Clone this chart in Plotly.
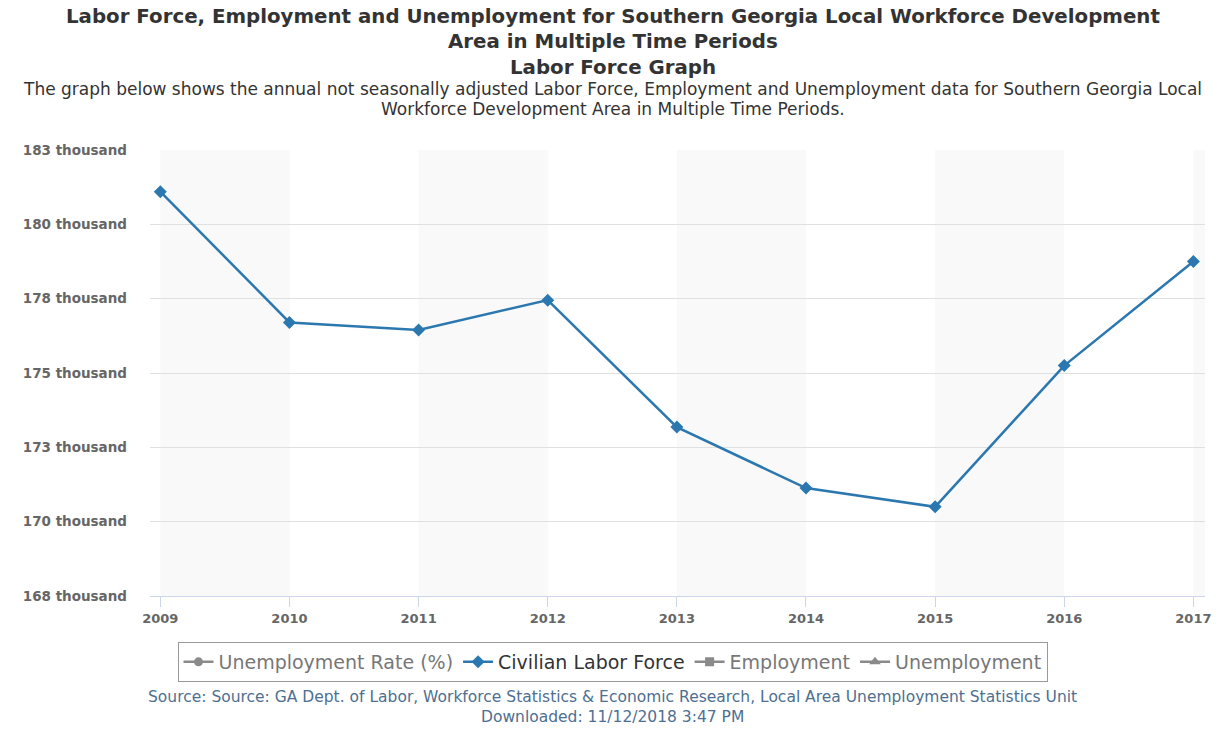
import plotly.graph_objects as go

years = [2009, 2010, 2011, 2012, 2013, 2014, 2015, 2016, 2017]
civilian_labor_force = [181100, 176700, 176450, 177450, 173180, 171130, 170500, 175250, 178750]
# series hidden in the reference chart (values not shown)
unemployment_rate = [None] * 9
employment = [None] * 9
unemployment = [None] * 9

y_tickvals = [167500, 170000, 172500, 175000, 177500, 180000, 182500]
y_ticktext = ["168 thousand", "170 thousand", "173 thousand", "175 thousand",
              "178 thousand", "180 thousand", "183 thousand"]

FONT = "DejaVu Sans, Verdana, sans-serif"
BLUE = "#2b78b0"
HID = "#8a8a8a"

# plot area in pixels
L, R, T, B = 150, 1205, 150, 596
W, H = 1225, 729


def py(pix):
    return (B - pix) / (B - T)


def px(pix):
    return (pix - L) / (R - L)


fig = go.Figure()
fig.add_trace(go.Scatter(x=years, y=unemployment_rate, mode="lines+markers",
                         name="<span style='color:#777'>Unemployment Rate (%)</span>",
                         line=dict(color=HID, width=2.5),
                         marker=dict(symbol="circle", size=9, color=HID)))
fig.add_trace(go.Scatter(x=years, y=civilian_labor_force, mode="lines+markers",
                         name="Civilian Labor Force",
                         line=dict(color=BLUE, width=2.5),
                         marker=dict(symbol="diamond", size=10, color=BLUE)))
fig.add_trace(go.Scatter(x=years, y=employment, mode="lines+markers",
                         name="<span style='color:#777'>Employment</span>",
                         line=dict(color=HID, width=2.5),
                         marker=dict(symbol="square", size=9, color=HID)))
fig.add_trace(go.Scatter(x=years, y=unemployment, mode="lines+markers",
                         name="<span style='color:#777'>Unemployment</span>",
                         line=dict(color=HID, width=2.5),
                         marker=dict(symbol="triangle-up", size=10, color=HID)))

# alternating bands
shapes = []
for i in range(0, len(years), 2):
    shapes.append(dict(type="rect", xref="x", yref="paper", x0=years[i], x1=years[i] + 1, y0=0, y1=1,
                       fillcolor="#f9f9f9", line=dict(width=0), layer="below"))

annotations = []
cx = px(W / 2)
title_lines = [
    ("Labor Force, Employment and Unemployment for Southern Georgia Local Workforce Development", 17),
    ("Area in Multiple Time Periods", 42),
    ("Labor Force Graph", 67),
]
for txt, yy in title_lines:
    annotations.append(dict(text="<b>" + txt + "</b>", xref="paper", yref="paper",
                            x=cx, y=py(yy), xanchor="center", yanchor="middle",
                            showarrow=False, font=dict(family=FONT, size=19.8, color="#333333")))
sub_lines = [
    ("The graph below shows the annual not seasonally adjusted Labor Force, Employment and Unemployment data for Southern Georgia Local", 89),
    ("Workforce Development Area in Multiple Time Periods.", 109),
]
for txt, yy in sub_lines:
    annotations.append(dict(text=txt, xref="paper", yref="paper",
                            x=cx, y=py(yy), xanchor="center", yanchor="middle",
                            showarrow=False, font=dict(family=FONT, size=17, color="#333333")))
src_lines = [
    ("Source: Source: GA Dept. of Labor, Workforce Statistics &amp; Economic Research, Local Area Unemployment Statistics Unit", 697),
    ("Downloaded: 11/12/2018 3:47 PM", 717),
]
for txt, yy in src_lines:
    annotations.append(dict(text=txt, xref="paper", yref="paper",
                            x=cx, y=py(yy), xanchor="center", yanchor="middle",
                            showarrow=False, font=dict(family=FONT, size=15.5, color="#4e6f91")))

fig.update_layout(
    width=W, height=H,
    margin=dict(l=L, r=W - R, t=T, b=H - B),
    paper_bgcolor="white", plot_bgcolor="white",
    font=dict(family=FONT, color="#333333"),
    shapes=shapes,
    annotations=annotations,
    showlegend=True,
    legend=dict(orientation="h", xref="container", yref="container",
                x=0.5, xanchor="center", y=1 - 642 / H, yanchor="top",
                bordercolor="#999999", borderwidth=1, bgcolor="white",
                font=dict(family=FONT, size=19, color="#333333"),
                itemwidth=30, tracegroupgap=0),
    xaxis=dict(range=[2008.92, 2017.09], tickvals=years, ticktext=[f"<b>{y}</b>" for y in years],
               showgrid=False, zeroline=False, showline=True, linecolor="#ccd6eb", linewidth=1,
               ticks="outside", ticklen=10, tickcolor="#ccd6eb",
               tickfont=dict(family=FONT, size=13, color="#666666")),
    yaxis=dict(range=[167500, 182500], tickvals=y_tickvals, ticktext=[f"<b>{t}</b>" for t in y_ticktext],
               showgrid=True, gridcolor="#e0e0e0", gridwidth=1, zeroline=False, showline=False,
               ticks="", ticklabelstandoff=22,
               tickfont=dict(family=FONT, size=13.5, color="#666666")),
)

fig.write_html("out.html")
